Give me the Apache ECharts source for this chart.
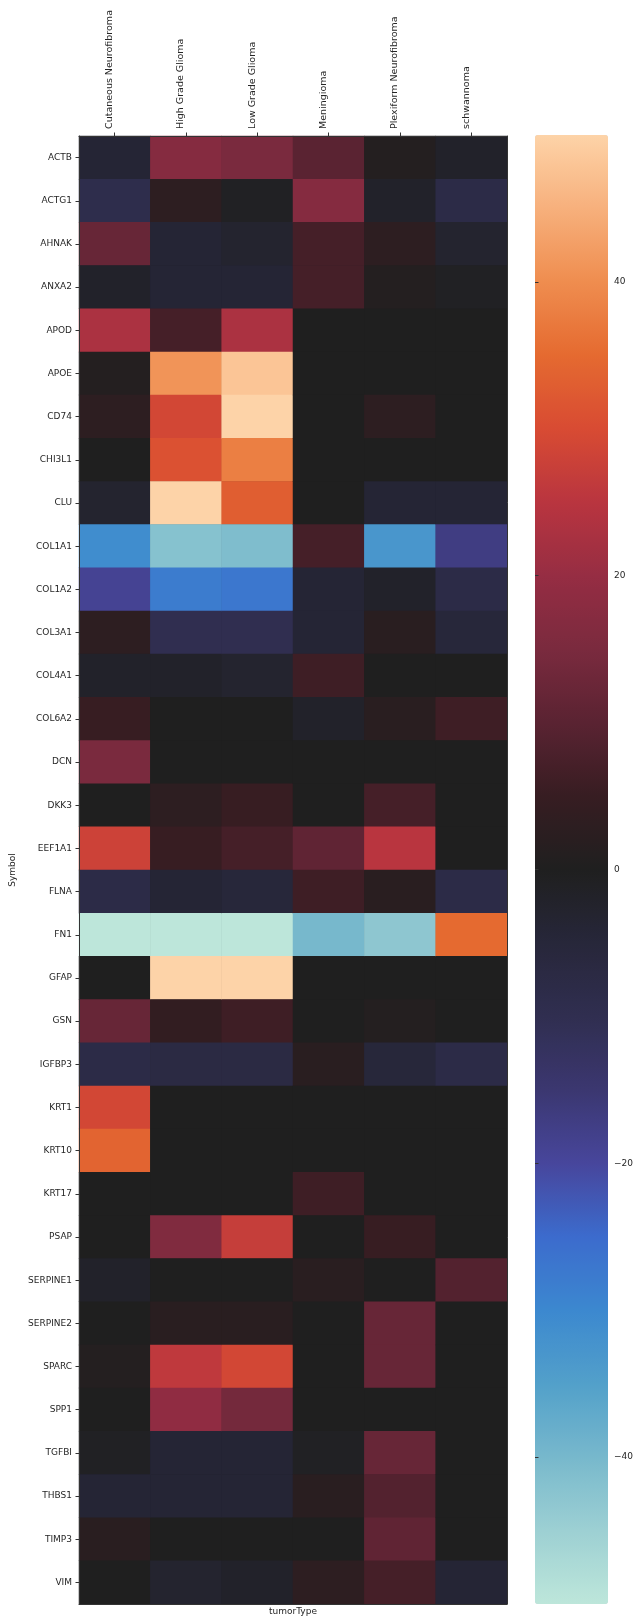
<!DOCTYPE html>
<html>
<head>
<meta charset="utf-8">
<script src="https://cdn.jsdelivr.net/npm/echarts@6/dist/echarts.min.js"></script>
<style>
html,body{margin:0;padding:0;background:#fff;}
#chart{width:634px;height:1618px;}
</style>
</head>
<body>
<div id="chart"></div>
<script>
var tumorTypes = ["Cutaneous Neurofibroma","High Grade Glioma","Low Grade Glioma","Meningioma","Plexiform Neurofibroma","schwannoma"];
var symbols = ["ACTB","ACTG1","AHNAK","ANXA2","APOD","APOE","CD74","CHI3L1","CLU","COL1A1","COL1A2","COL3A1","COL4A1","COL6A2","DCN","DKK3","EEF1A1","FLNA","FN1","GFAP","GSN","IGFBP3","KRT1","KRT10","KRT17","PSAP","SERPINE1","SERPINE2","SPARC","SPP1","TGFBI","THBS1","TIMP3","VIM"];

var cutaneousNF = [-4,-9,12,-2,23,1,3,0,-3,-31,-19,3,-2,5,15,0,28,-8,-50,0,12,-8,29,34,0,0,-2,0,1,0,-1,-4,2,0];
var highGradeGlioma = [17,3,-4,-4,7,41,29,31,50,-42,-28,-10,-2,0,0,3,5,-4,-50,50,4,-7,0,0,0,16,0,2,26,19,-4,-4,0,-3];
var lowGradeGlioma = [15,-1,-3,-4,23,48,50,38,33,-41,-27,-10,-3,0,0,5,7,-5,-50,50,6,-7,0,0,0,27,0,2,29,14,-4,-4,0,-2];
var meningioma = [10,17,7,7,0,0,0,0,0,7,-4,-4,6,-2,0,0,11,6,-40,0,0,2,0,0,6,0,2,0,0,0,-1,2,0,3];
var plexiformNF = [1,-2,3,1,0,0,3,0,-4,-33,-2,2,0,2,0,7,25,2,-43,0,1,-5,0,0,0,5,0,12,12,0,12,9,11,7];
var schwannoma = [-2,-8,-3,-1,0,0,0,0,-4,-17,-8,-5,0,6,0,0,0,-8,35,0,0,-8,0,0,0,0,9,0,0,0,0,0,0,-4];

var colorbarTicks = [-40,-20,0,20,40];

var columns = [cutaneousNF, highGradeGlioma, lowGradeGlioma, meningioma, plexiformNF, schwannoma];
var data = [];
columns.forEach(function(col, xi){
  col.forEach(function(v, yi){ data.push([xi, yi, v]); });
});

var icefire = ['#bde6da','#9dd0d3','#77b8cc','#52a0ca','#3c88cf','#3c6bcd','#47469c','#3b3770','#302e50','#27273a','#1f1f1f','#371d22','#5a2332','#7a2a3e','#962d43','#b9353f','#d84b33','#e56a30','#ef8d4f','#f7b07c','#fdd3a8'];

var FONT = 'DejaVu Sans';
var TXT = '#262626';
function fmt(v){ return v < 0 ? '\u2212' + Math.abs(v) : String(v); }

var chart = echarts.init(document.getElementById('chart'), null, {renderer:'canvas'});
chart.setOption({
  animation: false,
  backgroundColor: '#fff',
  grid: [
    {left: 79, top: 136, width: 428, height: 1468, show:true, backgroundColor:'#1f1f1f', borderWidth:0, outerBoundsMode:'none', containLabel:false},
    {left: 535, top: 135, width: 73, height: 1469, outerBoundsMode:'none', containLabel:false}
  ],
  xAxis: [
    {type:'category', data: tumorTypes, gridIndex:0, position:'top', z:10,
     axisLine:{show:true, lineStyle:{color:'#333', width:1}},
     axisTick:{show:true, alignWithLabel:true, length:3.5, lineStyle:{color:'#333'}},
     axisLabel:{rotate:-90, margin:7, fontFamily:FONT, fontSize:9.5, color:TXT, interval:0, verticalAlign:'bottom'},
     splitLine:{show:false}},
    {type:'category', data: tumorTypes, gridIndex:0, position:'bottom', z:10,
     axisLine:{show:true, lineStyle:{color:'#333', width:1}},
     axisTick:{show:false}, axisLabel:{show:false}, splitLine:{show:false},
     name:'tumorType', nameLocation:'middle', nameGap:3,
     nameTextStyle:{fontFamily:FONT, fontSize:9, color:TXT, verticalAlign:'top'}},
    {type:'value', gridIndex:1, show:false, min:0, max:1}
  ],
  yAxis: [
    {type:'category', data: symbols, gridIndex:0, inverse:true, z:10,
     axisLine:{show:true, lineStyle:{color:'#333', width:1}},
     axisTick:{show:true, alignWithLabel:true, length:3.5, lineStyle:{color:'#333'}},
     axisLabel:{margin:7, fontFamily:FONT, fontSize:9, color:TXT, interval:0},
     splitLine:{show:false},
     name:'Symbol', nameLocation:'middle', nameRotate:90, nameGap:60,
     nameTextStyle:{fontFamily:FONT, fontSize:9, color:TXT}},
    {type:'category', data: symbols, gridIndex:0, inverse:true, position:'right', z:10,
     axisLine:{show:true, lineStyle:{color:'#333', width:1}},
     axisTick:{show:false}, axisLabel:{show:false}, splitLine:{show:false}},
    {type:'value', gridIndex:1, position:'right', min:-50, max:50, z:10,
     axisLine:{show:false},
     axisTick:{show:true, length:3.5, lineStyle:{color:'#333'}, customValues: colorbarTicks},
     axisLabel:{margin:6, fontFamily:FONT, fontSize:9, color:TXT, customValues: colorbarTicks, formatter: fmt},
     splitLine:{show:false}}
  ],
  visualMap: {
    type:'continuous', min:-50, max:50, calculable:false, orient:'vertical',
    left:535, top:135, itemWidth:73, itemHeight:1469, padding:0,
    seriesIndex:0, hoverLink:false,
    inRange:{color: icefire},
    textStyle:{color:'rgba(0,0,0,0)'}
  },
  series: [{
    type:'heatmap', xAxisIndex:0, yAxisIndex:0, data:data,
    itemStyle:{borderWidth:0},
    emphasis:{disabled:true},
    progressive:0
  }]
});
</script>
</body>
</html>
